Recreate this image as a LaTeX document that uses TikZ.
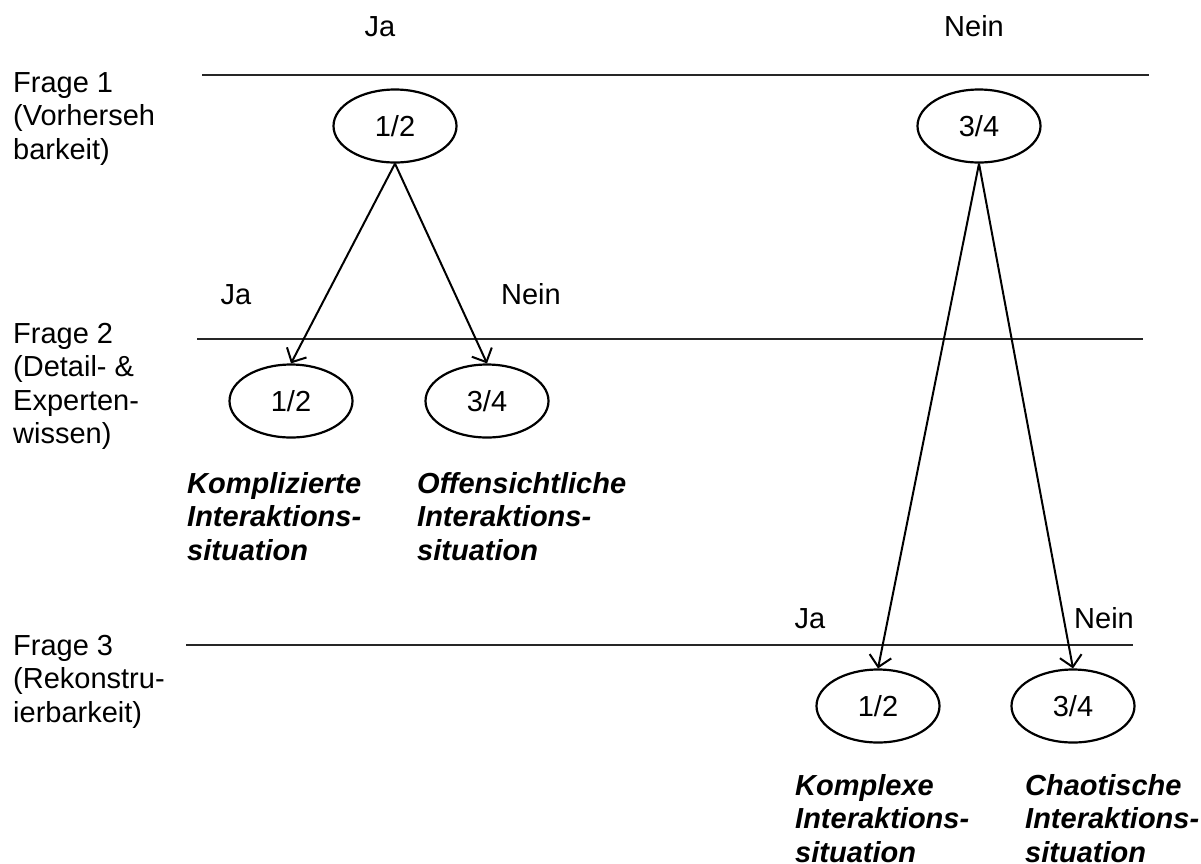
\documentclass[tikz,border=0pt]{standalone}
\usepackage{fontspec}
\setmainfont{Liberation Sans}
\usetikzlibrary{shapes.geometric,arrows.meta}
\newcommand{\fsz}{\fontsize{29}{33.5}\selectfont}
\begin{document}
\begin{tikzpicture}[x=1pt,y=-1pt,
  oval/.style={ellipse,draw,line width=2.2pt,minimum width=123pt,minimum height=73pt,inner sep=0pt,font=\fsz},
  rule/.style={line width=1.2pt,black!85},
  conn/.style={line width=2pt,-{Straight Barb[length=11pt,width=22pt,line width=2pt]}},
  lbl/.style={inner sep=0pt,anchor=north west,align=left,font=\fsz},
  res/.style={inner sep=0pt,anchor=north west,align=left,font=\fsz\bfseries\itshape},
  ans/.style={inner sep=0pt,anchor=base,font=\fsz}]
\useasboundingbox (0,0) rectangle (1201,863);
% horizontal rules
\coordinate (r1a) at (202,75); \coordinate (r1b) at (1149,75);
\coordinate (r2a) at (197,339); \coordinate (r2b) at (1143,339);
\coordinate (r3a) at (186,645); \coordinate (r3b) at (1133,645);
\draw[rule] (r1a) -- (r1b);
\draw[rule] (r2a) -- (r2b);
\draw[rule] (r3a) -- (r3b);
% question labels
\node[lbl] (q1) at (13,68.5) {\strut Frage 1\\(Vorherseh\\barkeit)};
\node[lbl] (q2) at (13,319.5) {\strut Frage 2\\(Detail- \&\\Experten-\\wissen)};
\node[lbl] (q3) at (13,631.5) {\strut Frage 3\\(Rekonstru-\\ierbarkeit)};
% answers
\node[ans] (j1) at (380,36) {Ja};
\node[ans] (n1) at (974,36) {Nein};
\node[ans] (j2) at (236,304) {Ja};
\node[ans] (n2) at (531,304) {Nein};
\node[ans] (j3) at (810,628) {Ja};
\node[ans] (n3) at (1104,628) {Nein};
% ellipses
\node[oval] (e1) at (395,126) {1/2};
\node[oval] (e2) at (979,126) {3/4};
\node[oval] (e3) at (291,401) {1/2};
\node[oval] (e4) at (487,401) {3/4};
\node[oval] (e5) at (878,706) {1/2};
\node[oval] (e6) at (1073,706) {3/4};
% arrows
\draw[conn] (e1.south) -- (e3.north);
\draw[conn] (e1.south) -- (e4.north);
\draw[conn] (e2.south) -- (e5.north);
\draw[conn] (e2.south) -- (e6.north);
% results
\node[res] (s1) at (187,469.5) {\strut Komplizierte\\Interaktions-\\situation};
\node[res] (s2) at (417,469.5) {\strut Offensichtliche\\Interaktions-\\situation};
\node[res] (s3) at (795,771.5) {\strut Komplexe\\Interaktions-\\situation};
\node[res] (s4) at (1025,771.5) {\strut Chaotische\\Interaktions-\\situation};
\end{tikzpicture}
\end{document}
